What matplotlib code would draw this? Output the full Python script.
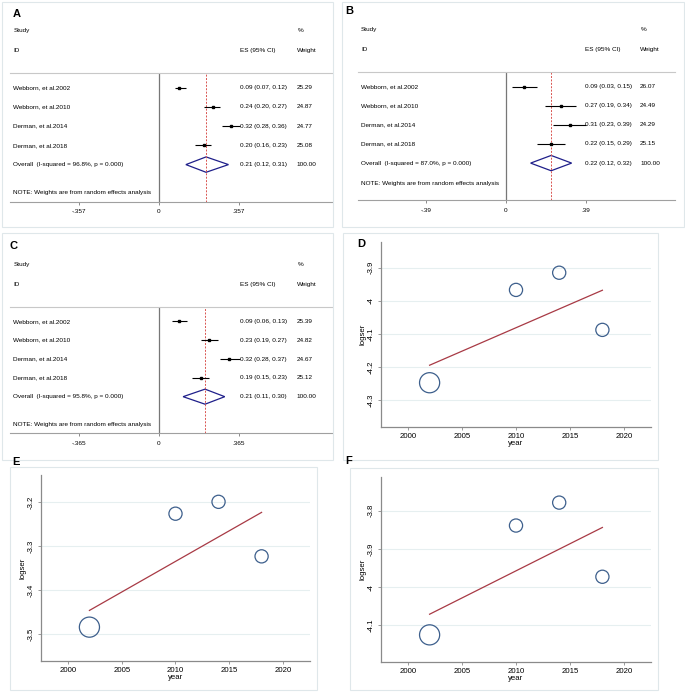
import numpy as np
import matplotlib.pyplot as plt
from matplotlib.patches import Rectangle, Polygon

plt.rcParams['font.family'] = ['Liberation Sans', 'DejaVu Sans']

W, H = 685, 693

# ---- forest plot data ----
studies = ["Webborn, et al.2002", "Webborn, et al.2010", "Derman, et al.2014", "Derman, et al.2018"]

es_a = [0.09, 0.24, 0.32, 0.20]
lo_a = [0.07, 0.20, 0.28, 0.16]
hi_a = [0.12, 0.27, 0.36, 0.23]
wt_a = ["25.29", "24.87", "24.77", "25.08"]
ov_a = (0.21, 0.12, 0.31)
isq_a = "96.8%"

es_b = [0.09, 0.27, 0.31, 0.22]
lo_b = [0.03, 0.19, 0.23, 0.15]
hi_b = [0.15, 0.34, 0.39, 0.29]
wt_b = ["26.07", "24.49", "24.29", "25.15"]
ov_b = (0.22, 0.12, 0.32)
isq_b = "87.0%"

es_c = [0.09, 0.23, 0.32, 0.19]
lo_c = [0.06, 0.19, 0.28, 0.15]
hi_c = [0.13, 0.27, 0.37, 0.23]
wt_c = ["25.39", "24.82", "24.67", "25.12"]
ov_c = (0.21, 0.11, 0.30)
isq_c = "95.8%"

# ---- meta-regression data ----
years = [2002, 2010, 2014, 2018]
sizes = [210, 90, 90, 90]
logser_d = [-4.248, -3.967, -3.915, -4.088]
logser_e = [-3.484, -3.226, -3.199, -3.323]
logser_f = [-4.125, -3.839, -3.779, -3.973]
fit_x = [2002, 2018]
fit_d = [-4.195, -3.968]
fit_e = [-3.446, -3.223]
fit_f = [-4.071, -3.844]
yt_d = [-4.3, -4.2, -4.1, -4.0, -3.9]
yt_e = [-3.5, -3.4, -3.3, -3.2]
yt_f = [-4.1, -4.0, -3.9, -3.8]
xt = [2000, 2005, 2010, 2015, 2020]

fig = plt.figure(figsize=(W / 100, H / 100), dpi=100)


def px_axes(l, r, t, b):
    return fig.add_axes([l / W, 1 - b / H, (r - l) / W, (b - t) / H])


def box(l, r, t, b, label, lx, ly):
    fig.patches.append(Rectangle((l / W, 1 - b / H), (r - l) / W, (b - t) / H,
                                 transform=fig.transFigure, fill=False,
                                 edgecolor="#dfe7ea", linewidth=0.8))
    fig.text(lx / W, 1 - ly / H, label, fontsize=8, fontweight="bold",
             ha="left", va="center")


def forest(pos, zero_px, scale, tick, es, lo, hi, wt, ov, isq, note_y):
    l, r, t, b = pos
    ax = px_axes(l, r, t, b)
    ax.set_xlim((l - zero_px) / scale, (r - zero_px) / scale)
    ax.set_ylim(5.93, -0.78)
    for s in ["left", "right"]:
        ax.spines[s].set_visible(False)
    ax.spines["top"].set_color("#c8c8c8")
    ax.spines["bottom"].set_color("#a0a0a0")
    ax.spines["top"].set_linewidth(0.8)
    ax.spines["bottom"].set_linewidth(0.8)
    ax.set_yticks([])
    ax.set_xticks([-tick, 0, tick])
    lab = ("%.3f" % tick).rstrip("0").lstrip("0")
    ax.set_xticklabels(["-" + lab, "0", lab], fontsize=4.6)
    ax.tick_params(axis="x", length=2.5, width=0.6, color="#777777", pad=3)
    ax.axvline(0, color="#777777", linewidth=0.9)
    ax.axvline(ov[0], color="#d9534f", linewidth=0.7, linestyle=(0, (2, 1.5)))

    rows = np.arange(len(es))
    ax.hlines(rows, lo, hi, color="black", linewidth=0.8)
    ax.plot(es, rows, "s", color="black", markersize=1.6)
    ax.add_patch(Polygon([[ov[1], 4], [ov[0], 3.6], [ov[2], 4], [ov[0], 4.4]],
                         closed=True, fill=False, edgecolor="#1f1f8a", linewidth=0.9))

    tr = ax.get_yaxis_transform()
    fs = 4.6
    kw = dict(transform=tr, fontsize=fs, va="center", clip_on=False)
    ax.text(0.01, -3.0, "Study", **kw)
    ax.text(0.01, -1.95, "ID", **kw)
    ax.text(0.893, -3.0, "%", **kw)
    ax.text(0.715, -1.95, "ES (95% CI)", **kw)
    ax.text(0.89, -1.95, "Weight", **kw)
    for i in rows:
        ax.text(0.01, i, studies[i], **kw)
        ax.text(0.715, i, "%.2f (%.2f, %.2f)" % (es[i], lo[i], hi[i]), **kw)
        ax.text(0.89, i, wt[i], **kw)
    ax.text(0.01, 4, "Overall  (I-squared = %s, p = 0.000)" % isq, **kw)
    ax.text(0.715, 4, "%.2f (%.2f, %.2f)" % ov, **kw)
    ax.text(0.89, 4, "100.00", **kw)
    ax.text(0.01, note_y, "NOTE: Weights are from random effects analysis", **kw)


def metareg(pos, lim, yvals, fit, yt):
    l, r, t, b = pos
    ax = px_axes(l, r, t, b)
    ax.set_xlim(1997.5, 2022.5)
    ax.set_ylim(*lim)
    for s in ["top", "right"]:
        ax.spines[s].set_visible(False)
    for s in ["left", "bottom"]:
        ax.spines[s].set_color("#8a8a8a")
        ax.spines[s].set_linewidth(0.9)
    ax.set_xticks(xt)
    ax.set_xticklabels([str(x) for x in xt], fontsize=5.6)
    ax.set_yticks(yt)
    ax.set_yticklabels([("%g" % v) for v in yt], fontsize=5.6, rotation=90, va="center")
    ax.tick_params(length=2.5, width=0.6, color="#8a8a8a", pad=2)
    ax.grid(axis="y", color="#e6eff0", linewidth=0.8)
    ax.set_axisbelow(True)
    ax.scatter(years, yvals, s=sizes, facecolors="none", edgecolors="#3d5f8c", linewidths=0.9, zorder=3)
    ax.plot(fit_x, fit, color="#a83a45", linewidth=0.9)
    ax.set_xlabel("year", fontsize=5.6, labelpad=0)
    ax.set_ylabel("logser", fontsize=5.6, labelpad=1)


# panel boxes
box(2, 333, 2, 227, "A", 13, 14)
box(342, 684, 2, 227, "B", 345, 11)
box(2, 333, 233, 460, "C", 10, 246)
box(343, 658, 233, 460, "D", 357, 244)
box(10, 317, 467, 690, "E", 12, 462)
box(350, 658, 468, 690, "F", 345, 461)

forest((10, 332, 72.7, 201.7), 159, 80 / 0.357, 0.357, es_a, lo_a, hi_a, wt_a, ov_a, isq_a, 5.47)
forest((358, 675, 71.7, 200), 506, 80 / 0.39, 0.39, es_b, lo_b, hi_b, wt_b, ov_b, isq_b, 5.05)
forest((10, 332, 306.7, 433), 159, 80 / 0.365, 0.365, es_c, lo_c, hi_c, wt_c, ov_c, isq_c, 5.47)

metareg((381, 651, 242, 427), (-4.382, -3.822), logser_d, fit_d, yt_d)
metareg((41, 310, 475, 661), (-3.561, -3.138), logser_e, fit_e, yt_e)
metareg((381, 651, 477, 662), (-4.196, -3.712), logser_f, fit_f, yt_f)

fig.savefig("out.png", dpi=100)
